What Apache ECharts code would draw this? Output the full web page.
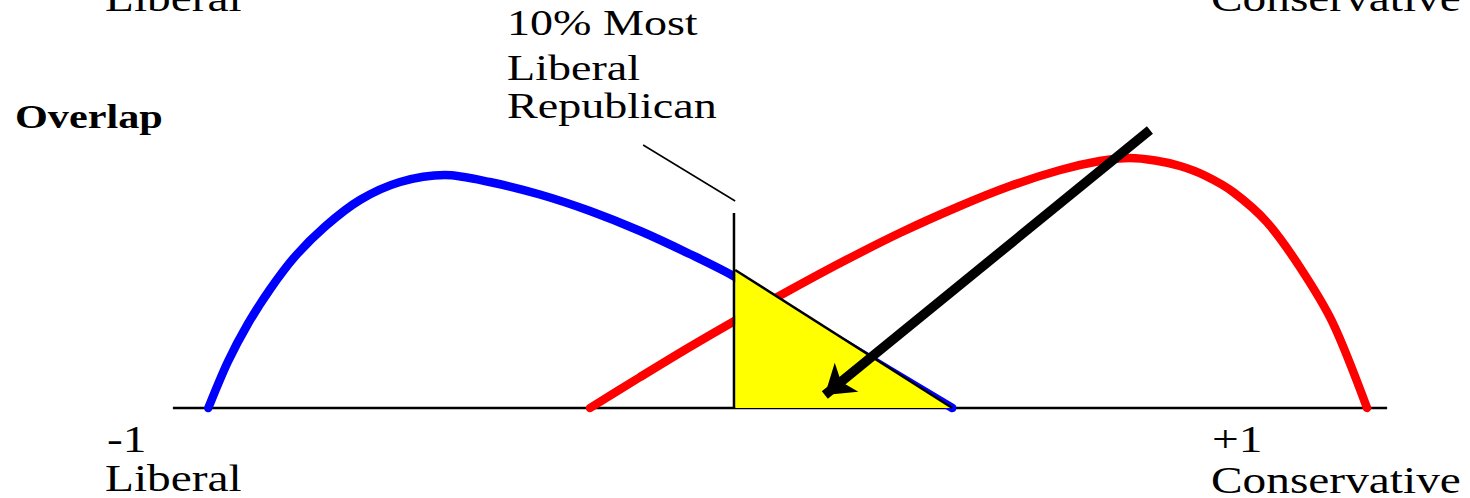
<!DOCTYPE html>
<html>
<head>
<meta charset="utf-8">
<title>Overlap</title>
<script src="https://cdn.jsdelivr.net/npm/echarts@6/dist/echarts.min.js"></script>
<style>
  html, body { margin: 0; padding: 0; background: #fff; }
  #main { width: 1470px; height: 498px; }
</style>
</head>
<body>
<div id="main"></div>
<script>
// ideology scale: -1 = liberal, +1 = conservative; y = relative share of members
var demX = [-0.969, -0.936, -0.902, -0.864, -0.822, -0.771, -0.712, -0.644, -0.568, -0.492, -0.407, -0.322, -0.237, -0.153, -0.076, 0.107, 0.292];
var demY = [0, 0.184, 0.336, 0.476, 0.606, 0.726, 0.832, 0.904, 0.932, 0.904, 0.854, 0.788, 0.708, 0.616, 0.524, 0.262, 0];

var repX = [-0.322, -0.237, -0.153, -0.068, 0.017, 0.102, 0.203, 0.305, 0.390, 0.475, 0.542, 0.593, 0.636, 0.678, 0.720, 0.768, 0.825, 0.881, 0.937, 0.995];
var repY = [0, 0.124, 0.244, 0.36, 0.472, 0.58, 0.70, 0.808, 0.888, 0.952, 0.988, 1.0, 0.99, 0.968, 0.93, 0.864, 0.744, 0.564, 0.34, 0];

// yellow overlap triangle, cut at the 10% most liberal republican
var cutX = -0.078;
var cutTop = 0.78;
var overlapX = [-0.076, 0.292];
var overlapY = [0.552, 0];

var axisX = [-1.029, 1.029];
var leaderX = [-0.232, -0.076];
var leaderY = [1.052, 0.828];
var arrowX = [0.627, 0.076];
var arrowY = [1.112, 0.052];

var tickLabels = ['-1', '+1'];
var endLabels = ['Liberal', 'Conservative'];
var noteLines = ['10% Most', 'Liberal', 'Republican'];

function pairs(xs, ys) {
    return xs.map(function (x, i) { return [x, ys[i]]; });
}

var serif = '"Liberation Serif", "Times New Roman", serif';
function txt(str, x, base, size, bold) {
    return {
        type: 'text', x: x, y: base - 0.3 * size, scaleX: 1.28, z: 10,
        style: {
            text: str, fill: '#000', fontSize: size, fontFamily: serif,
            fontWeight: bold ? 'bold' : 'normal', align: 'left', verticalAlign: 'middle'
        }
    };
}

var myChart = echarts.init(document.getElementById('main'), null, { renderer: 'svg' });
myChart.setOption({
    animation: false,
    backgroundColor: '#fff',
    grid: { left: 131, right: 41, top: 108, bottom: 65 },
    xAxis: { type: 'value', min: -1.1, max: 1.1, show: false },
    yAxis: { type: 'value', min: -0.1, max: 1.2, show: false },
    graphic: [
        txt(endLabels[0], 105, 9, 37),
        txt(endLabels[1], 1211, 9, 37),
        txt(noteLines[0], 507, 34, 36),
        txt(noteLines[1], 507, 79, 36),
        txt(noteLines[2], 507, 117, 36),
        txt('Overlap', 15, 127, 33, true),
        txt(tickLabels[0], 107, 450, 37),
        txt(tickLabels[1], 1212, 450, 37),
        txt(endLabels[0], 105, 489, 37),
        txt(endLabels[1], 1211, 491, 37)
    ],
    series: [
        {
            type: 'line', data: pairs(axisX, [0, 0]), symbol: 'none', z: 1,
            lineStyle: { color: '#000', width: 2.5 }
        },
        {
            type: 'line', data: pairs(demX, demY), smooth: 0.3, symbol: 'none', z: 2,
            lineStyle: { color: '#0000ff', width: 8.5, cap: 'round' }
        },
        {
            type: 'line', data: pairs(repX, repY), smooth: 0.3, symbol: 'none', z: 2,
            lineStyle: { color: '#ff0000', width: 8.5, cap: 'round' }
        },
        {
            type: 'line', data: pairs(overlapX, overlapY), symbol: 'none', z: 3,
            lineStyle: { color: '#000', width: 2.5 },
            areaStyle: { color: '#ffff00', opacity: 1, origin: 'auto' }
        },
        {
            type: 'line', data: [[cutX, 0], [cutX, cutTop]], symbol: 'none', z: 4,
            lineStyle: { color: '#000', width: 2.5 }
        },
        {
            type: 'line', data: pairs(leaderX, leaderY), symbol: 'none', z: 4,
            lineStyle: { color: '#000', width: 1.5 }
        },
        {
            type: 'lines', coordinateSystem: 'cartesian2d', z: 5,
            symbol: ['none', 'arrow'], symbolSize: 28,
            lineStyle: { color: '#000', width: 9.5, opacity: 1 },
            data: [{ coords: pairs(arrowX, arrowY) }]
        }
    ]
});
</script>
</body>
</html>
